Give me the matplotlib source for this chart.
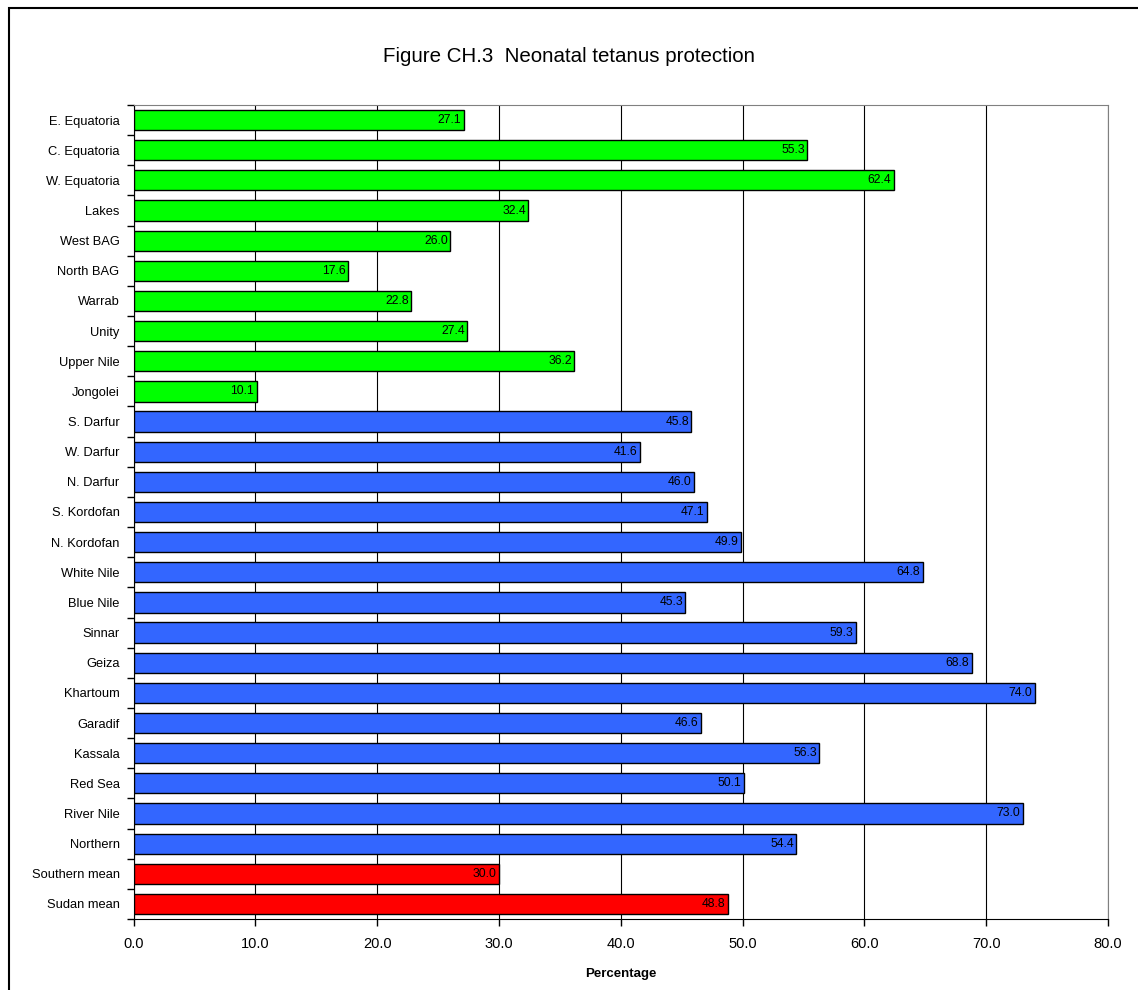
import matplotlib
matplotlib.use("Agg")
import matplotlib.pyplot as plt
from matplotlib.patches import Rectangle
import numpy as np

plt.rcParams['font.family'] = ['Liberation Sans', 'DejaVu Sans']

categories = ["E. Equatoria", "C. Equatoria", "W. Equatoria", "Lakes", "West BAG",
              "North BAG", "Warrab", "Unity", "Upper Nile", "Jongolei",
              "S. Darfur", "W. Darfur", "N. Darfur", "S. Kordofan", "N. Kordofan",
              "White Nile", "Blue Nile", "Sinnar", "Geiza", "Khartoum", "Garadif",
              "Kassala", "Red Sea", "River Nile", "Northern", "Southern mean", "Sudan mean"]
values = [27.1, 55.3, 62.4, 32.4, 26.0, 17.6, 22.8, 27.4, 36.2, 10.1,
          45.8, 41.6, 46.0, 47.1, 49.9, 64.8, 45.3, 59.3, 68.8, 74.0, 46.6,
          56.3, 50.1, 73.0, 54.4, 30.0, 48.8]
groups = ["south"] * 10 + ["north"] * 15 + ["mean"] * 2
group_colors = {"south": "#00FF00", "north": "#3366FF", "mean": "#FF0000"}
xticks = [0, 10, 20, 30, 40, 50, 60, 70, 80]

fig = plt.figure(figsize=(11.38, 9.9), dpi=100)
ax = fig.add_axes([133.5/1138, 1-919/990, (1108-133.5)/1138, (919-105)/990])

n = len(categories)
y = np.arange(n)
colors = [group_colors[g] for g in groups]
ax.barh(y, values, height=0.67, color=colors, edgecolor="black", linewidth=1.0, zorder=3)
for yi, v in zip(y, values):
    ax.text(v - 0.2, yi, f"{v:.1f}", ha="right", va="center", fontsize=8.7, zorder=4)

ax.set_ylim(n - 0.5, -0.5)
ax.set_xlim(0, 80)
ax.set_xticks(xticks)
ax.set_xticklabels([f"{t:.1f}" for t in xticks], fontsize=10.5)
ax.set_yticks(y)
ax.set_yticklabels(categories, fontsize=9.3)
ax.set_yticks(np.arange(n + 1) - 0.5, minor=True)
ax.tick_params(axis="y", which="major", length=0, pad=10)
ax.tick_params(axis="y", which="minor", length=5, direction="out", width=1)
ax.tick_params(axis="x", length=5, direction="out", width=1, pad=8)
ax.xaxis.grid(True, color="black", linewidth=0.8, zorder=0)
ax.set_axisbelow(True)
for s in ["top", "right"]:
    ax.spines[s].set_color("#808080")
for s in ["left", "bottom"]:
    ax.spines[s].set_color("black")
ax.set_xlabel("Percentage", fontsize=9.5, fontweight="bold", labelpad=12)

fig.text(0.5, 1-57/990, "Figure CH.3  Neonatal tetanus protection", ha="center", va="center", fontsize=14.8)
fig.patches.append(Rectangle((8.5/1138, -0.01), 1.02, 1-7.5/990+0.01, transform=fig.transFigure,
                             fill=False, edgecolor="black", linewidth=1.5))

fig.savefig("out.png", dpi=100)
